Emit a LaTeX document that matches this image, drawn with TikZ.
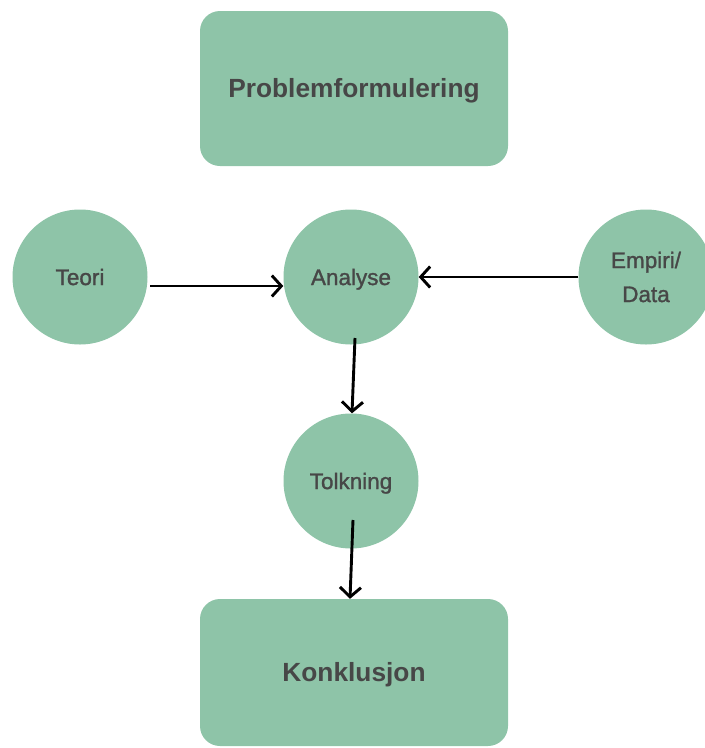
\documentclass[tikz,border=0pt]{standalone}
\usepackage{fontspec}
\setmainfont{Liberation Sans}
\newfontfamily\medfont{Liberation Sans}[FakeBold=1.3]
\usetikzlibrary{arrows.meta}
\definecolor{sage}{HTML}{8EC4A8}
\definecolor{ink}{HTML}{474747}
\tikzset{
  stepbox/.style={draw=none, fill=sage, rounded corners=20pt, minimum width=308pt,
    text=ink, text height=18.6pt, text depth=0pt,
    font=\fontsize{26.3}{30}\selectfont\bfseries},
  disc/.style={circle, fill=sage, minimum size=135pt, inner sep=0pt, align=center,
    text=ink, font=\medfont\fontsize{22.5}{34}\selectfont},
  oneline/.style={text height=16.1pt, text depth=0pt},
  flow/.style={draw=black, line width=2.9pt, -{Straight Barb[length=9.5pt, width=21pt, line width=2.9pt]}}
}
\begin{document}
\begin{tikzpicture}[x=1pt, y=-1pt]
  \useasboundingbox (0,0) rectangle (705,748);
  \clip (0,0) rectangle (705,748);
  % boxes
  \node[stepbox, minimum height=155pt] (prob) at (354,88.5) {Problemformulering};
  \node[stepbox, minimum height=147pt] (konk) at (354,672.5) {Konklusjon};
  % circles
  \node[disc, oneline] (teori) at (80,277) {Teori};
  \node[disc, oneline] (analyse) at (351,277) {Analyse};
  \node[disc] (empiri) at (646,277) {Empiri/\\Data};
  \node[disc, oneline] (tolk) at (351,481) {Tolkning};
  % connector ends
  \coordinate (a1) at (150,286);
  \coordinate (a2) at (355,338);
  \coordinate (b2) at (352,0);
  \coordinate (a3) at (353,520);
  \coordinate (b3) at (350,0);
  % connectors
  \draw[flow] (a1) -- (analyse.west |- a1);
  \draw[flow] (empiri.west) -- (analyse.east);
  \draw[flow] (a2) -- (b2 |- tolk.north);
  \draw[flow] (a3) -- (b3 |- konk.north);
\end{tikzpicture}
\end{document}
